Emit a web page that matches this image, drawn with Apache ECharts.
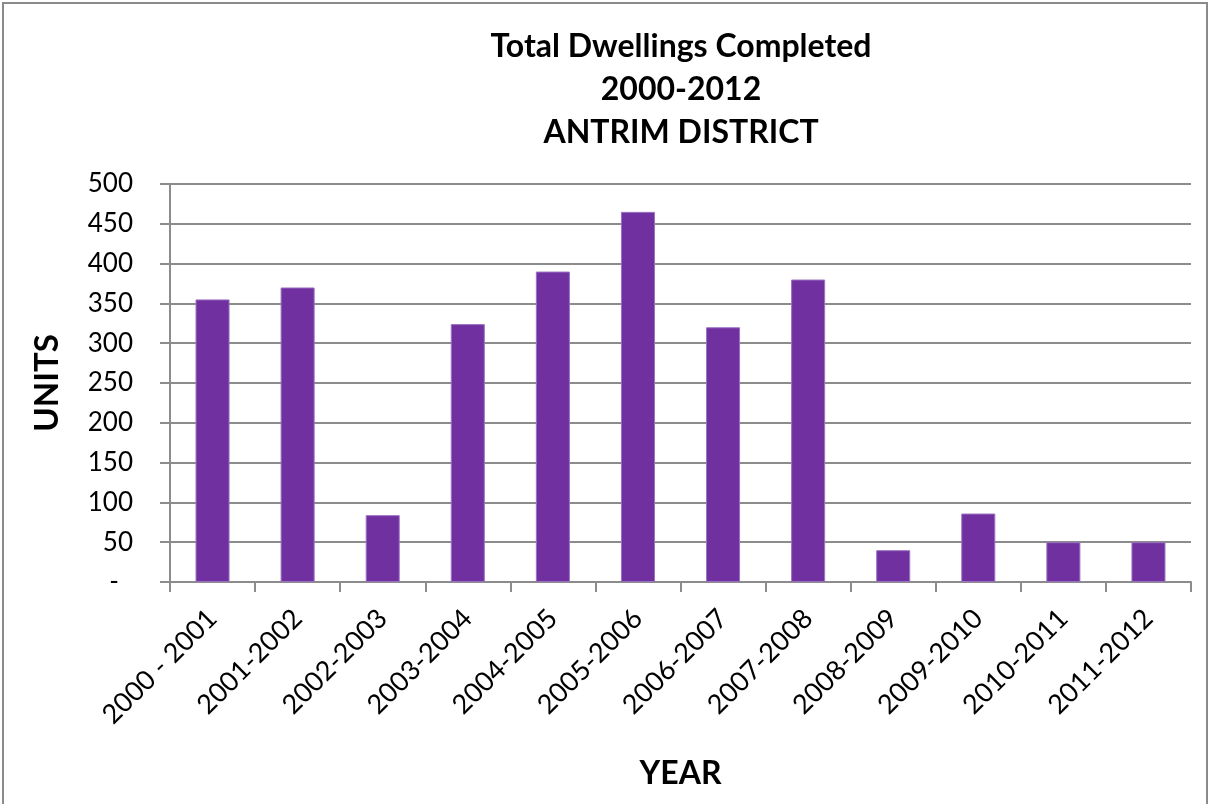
<!DOCTYPE html>
<html>
<head>
<meta charset="utf-8">
<title>Total Dwellings Completed 2000-2012 – Antrim District</title>
<script src="https://cdn.jsdelivr.net/npm/echarts@6/dist/echarts.min.js"></script>
<style>
  html, body { margin: 0; padding: 0; background: #ffffff; }
  #chart { width: 1211px; height: 804px; }
</style>
</head>
<body>
<div id="chart"></div>
<script>
// Financial years shown on the category axis
const years = [
  '2000 - 2001', '2001-2002', '2002-2003', '2003-2004', '2004-2005', '2005-2006',
  '2006-2007', '2007-2008', '2008-2009', '2009-2010', '2010-2011', '2011-2012'
];
// Dwellings completed in each year (units)
const dwellings = [355, 370, 84, 324, 390, 465, 320, 380, 40, 86, 50, 50];
// Value axis range
const yMin = 0, yMax = 500, yStep = 50;

const chart = echarts.init(document.getElementById('chart'), null, { renderer: 'canvas' });
const font = 'Lato, "Open Sans", sans-serif';
const axisGrey = '#8c8c8c';

chart.setOption({
  backgroundColor: '#ffffff',
  animation: false,
  graphic: [{
    type: 'rect',
    shape: { x: 3, y: 3, width: 1204, height: 830 },
    style: { fill: 'none', stroke: '#8a8a8a', lineWidth: 2 },
    silent: true
  }],
  title: {
    text: 'Total Dwellings Completed\n2000-2012\nANTRIM DISTRICT',
    left: 676, top: 20, textAlign: 'center',
    textStyle: { fontFamily: font, fontWeight: 'bold', fontSize: 32, lineHeight: 43, color: '#000' }
  },
  grid: { left: 170, right: 20, top: 184, bottom: 222 },
  xAxis: {
    type: 'category',
    data: years,
    name: 'YEAR',
    nameLocation: 'middle',
    nameGap: 176,
    nameTextStyle: { fontFamily: font, fontWeight: 'bold', fontSize: 32, color: '#000' },
    axisLine: { lineStyle: { color: axisGrey, width: 2 } },
    axisTick: { show: true, alignWithLabel: false, length: 10, lineStyle: { color: axisGrey, width: 2 } },
    axisLabel: { rotate: 45, margin: 32, fontFamily: font, fontSize: 27, color: '#000' }
  },
  yAxis: {
    type: 'value',
    min: yMin, max: yMax, interval: yStep,
    name: 'UNITS',
    nameLocation: 'middle',
    nameGap: 106,
    nameRotate: 90,
    nameTextStyle: { fontFamily: font, fontWeight: 'bold', fontSize: 33, color: '#000' },
    axisLine: { show: true, lineStyle: { color: axisGrey, width: 2 } },
    axisTick: { show: true, length: 10, lineStyle: { color: axisGrey, width: 2 } },
    splitLine: { show: true, lineStyle: { color: axisGrey, width: 2 } },
    axisLabel: {
      margin: 37,
      fontFamily: font, fontSize: 26, color: '#000',
      formatter: v => v === 0 ? '{dash|-}' : String(v),
      rich: { dash: { fontFamily: font, fontSize: 26, color: '#000', padding: [0, 14, 0, 0] } }
    }
  },
  series: [{
    type: 'bar',
    data: dwellings,
    barCategoryGap: '60%',
    itemStyle: { color: '#7030a0', borderColor: '#9b72c2', borderWidth: 1 }
  }]
});
</script>
</body>
</html>
